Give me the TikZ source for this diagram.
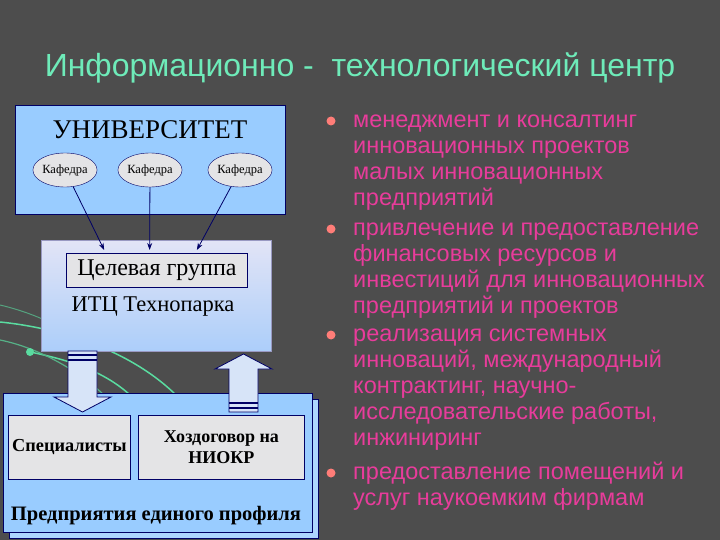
\documentclass[tikz,border=0pt]{standalone}
\usepackage{fontspec}
\setmainfont{Liberation Serif}
\newfontfamily\arialfont{Liberation Sans}
\usepackage{xcolor}
\definecolor{bggray}{RGB}{77,77,77}
\definecolor{titlegreen}{RGB}{110,235,185}
\definecolor{unibl}{RGB}{153,204,255}
\definecolor{navy}{RGB}{0,0,102}
\definecolor{boxgray}{RGB}{228,228,230}
\definecolor{itctop}{RGB}{226,228,246}
\definecolor{itcbot}{RGB}{172,206,250}
\definecolor{pinktext}{RGB}{232,60,155}
\definecolor{dotred}{RGB}{255,125,120}
\definecolor{swoosh}{RGB}{90,220,160}
\definecolor{arrowfill}{RGB}{215,228,248}
\usepackage{tikz}
\usetikzlibrary{
    shapes.geometric,
    arrows.meta,
    positioning,
    calc
}
\tikzstyle{arrow} = [
    line width=0.8pt,
    navy,
    -{Stealth[length=7pt, width=5pt]}
]
\tikzstyle{kafedra} = [
    ellipse,
    draw=navy,
    fill=boxgray,
    minimum width=64pt,
    minimum height=34pt,
    inner sep=0pt,
    font=\fontsize{12.5}{14}\selectfont
]
\tikzstyle{graybox} = [
    rectangle,
    draw=navy,
    fill=boxgray,
    line width=0.8pt,
    inner sep=0pt,
    anchor=north west
]
\tikzstyle{bigarrow} = [
    draw=navy,
    fill=arrowfill,
    line width=0.8pt
]
\tikzstyle{punkt} = [
    font=\arialfont\fontsize{23.5}{26}\selectfont,
    text=pinktext,
    align=left,
    anchor=north west,
    inner sep=0pt
]

\begin{document}
\begin{tikzpicture}[x=1pt, y=-1pt]

% Hintergrund
\fill[bggray] (0,0) rectangle (720,540);
\useasboundingbox (0,0) rectangle (720,540);

% Titel
\node[font=\arialfont\fontsize{32}{34}\selectfont, text=titlegreen, anchor=base] (titel) at (360,77)
    {Информационно -\ \ технологический центр};

% Bogen links
\draw[swoosh!60!bggray, line width=1pt] (0,305) .. controls (30,312) and (60,325) .. (90,345);
\draw[swoosh, line width=1.5pt] (0,322) .. controls (60,328) and (130,350) .. (176,395);
\draw[swoosh, line width=1.5pt] (30,352) .. controls (70,360) and (105,372) .. (130,395);
\draw[swoosh!70!bggray, line width=1.2pt] (0,340) .. controls (40,348) and (80,372) .. (104,395);
\fill[swoosh] (30,352) circle (4);

% Universitaet
\node[draw=navy, fill=unibl, minimum width=270pt, minimum height=109pt, inner sep=0pt, anchor=north west] (uni) at (15,105) {};
\node[font=\fontsize{27}{30}\selectfont] (unititel) at (150,130) {УНИВЕРСИТЕТ};
\node[kafedra] (kaf1) at (65,170) {Кафедра};
\node[kafedra] (kaf2) at (150,170) {Кафедра};
\node[kafedra] (kaf3) at (240,170) {Кафедра};

% ITC
\node[draw=navy!40, top color=itctop, bottom color=itcbot, minimum width=230pt, minimum height=111pt, inner sep=0pt, anchor=north west] (itc) at (41,240) {};
\node[graybox, minimum width=181pt, minimum height=34pt, font=\fontsize{24}{26}\selectfont] (grp) at (66,253) {Целевая группа};
\node[font=\fontsize{22.5}{26}\selectfont] (itclabel) at (153,307) {ИТЦ Технопарка};

% Pfeile zur Zielgruppe
\coordinate (z1) at ($(grp.north west)!0.21!(grp.north east)+(0,-3)$);
\coordinate (z2) at ($(grp.north west)!0.46!(grp.north east)+(0,-3)$);
\coordinate (z3) at ($(grp.north west)!0.72!(grp.north east)+(0,-3)$);
\draw[arrow] (kaf1) -- (z1);
\draw[arrow] (kaf2) -- (z2);
\draw[arrow] (kaf3) -- (z3);

% Unternehmen
\node[draw=navy, fill=unibl!80!white, minimum width=309pt, minimum height=139pt, inner sep=0pt, anchor=north west] (schatten) at (9,399) {};
\node[draw=navy, fill=unibl, minimum width=309pt, minimum height=139pt, inner sep=0pt, anchor=north west] (firma) at (3,393) {};
\node[graybox, minimum width=122pt, minimum height=64pt, font=\bfseries\fontsize{18.3}{20}\selectfont] (spez) at (8,415) {Специалисты};
\node[graybox, minimum width=166pt, minimum height=64pt, align=center, font=\bfseries\fontsize{18}{21}\selectfont] (hoz) at (138,415) {Хоздоговор на\\НИОКР};
\node[font=\bfseries\fontsize{20.5}{24}\selectfont] (firmlabel) at (156,516) {Предприятия единого профиля};

% Blockpfeile
\draw[bigarrow] (68,351) -- (97,351) -- (97,397) -- (111,397) -- (82.5,412) -- (54,397) -- (68,397) -- cycle;
\draw[navy, line width=1.5pt] (68,355) -- (97,355);
\draw[navy, line width=1.5pt] (68,360) -- (97,360);
\draw[bigarrow] (229,412) -- (229,369) -- (215,369) -- (243.5,354) -- (272,369) -- (258,369) -- (258,412) -- cycle;
\draw[navy, line width=1.5pt] (229,403) -- (258,403);
\draw[navy, line width=1.5pt] (229,408) -- (258,408);

% Aufzaehlung
\foreach \i/\y in {1/121, 2/229, 3/335, 4/473} {
    \node[circle, fill=dotred, minimum size=9pt, inner sep=0pt] (dot\i) at (331,\y) {};
}
\node[punkt] (p1) at (353,109) {\strut менеджмент и консалтинг\\инновационных проектов\\малых инновационных\\предприятий};
\node[punkt] (p2) at (353,217) {\strut привлечение и предоставление\\финансовых ресурсов и\\инвестиций для инновационных\\предприятий и проектов};
\node[punkt] (p3) at (353,323) {\strut реализация системных\\инноваций, международный\\контрактинг, научно-\\исследовательские работы,\\инжиниринг};
\node[punkt] (p4) at (353,461) {\strut предоставление помещений и\\услуг наукоемким фирмам};

\end{tikzpicture}
\end{document}
